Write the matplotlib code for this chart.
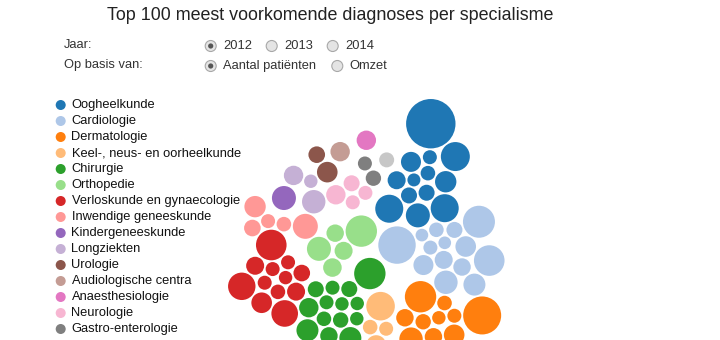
import numpy as np
import matplotlib
matplotlib.use("Agg")
import matplotlib.pyplot as plt
from matplotlib.patches import Circle

# ---------------- data ----------------
titel = "Top 100 meest voorkomende diagnoses per specialisme"
jaren = ["2012", "2013", "2014"]
bases = ["Aantal patiënten", "Omzet"]

specialismen = [
    "Oogheelkunde", "Cardiologie", "Dermatologie", "Keel-, neus- en oorheelkunde",
    "Chirurgie", "Orthopedie", "Verloskunde en gynaecologie", "Inwendige geneeskunde",
    "Kindergeneeskunde", "Longziekten", "Urologie", "Audiologische centra",
    "Anaesthesiologie", "Neurologie", "Gastro-enterologie", "Overig",
]
kleuren = [
    "#1f77b4", "#aec7e8", "#ff7f0e", "#ffbb78", "#2ca02c", "#98df8a", "#d62728", "#ff9896",
    "#9467bd", "#c5b0d5", "#8c564b", "#c49c94", "#e377c2", "#f7b6d2", "#7f7f7f", "#c7c7c7",
]
# relative number of patients per diagnosis (bubble area), grouped per specialism
oogheelkunde = [610, 210, 196, 196, 144, 114, 100, 81, 64, 64, 53, 49, 42]
cardiologie = [350, 256, 234, 137, 121, 106, 100, 81, 76, 64, 53, 49, 40, 40]
dermatologie = [361, 246, 137, 106, 76, 76, 59, 53, 49, 45]
kno = [204, 100, 53, 49]
chirurgie = [246, 121, 121, 94, 76, 64, 64, 59, 53, 49, 49, 45, 45, 45]
orthopedie = [246, 144, 86, 81, 76]
verloskunde = [234, 188, 177, 106, 81, 81, 69, 53, 49, 49, 49, 45]
inwendige = [156, 114, 69, 53, 49]
kindergeneeskunde = [144]
longziekten = [137, 94, 45]
urologie = [106, 69]
audiologie = [94]
anaesthesiologie = [94]
neurologie = [94, 64, 49, 49]
gastro = [59, 49]
overig = [56]

waarden = [oogheelkunde, cardiologie, dermatologie, kno, chirurgie, orthopedie,
           verloskunde, inwendige, kindergeneeskunde, longziekten, urologie,
           audiologie, anaesthesiologie, neurologie, gastro, overig]

# ---------------- layout (clustered packing) ----------------
W, H = 720, 340
centre = np.array([374.0, 250.0])
# per cluster: anchor angle, anchor distance from centre,
# direction and distance of the cluster's largest bubble relative to the anchor
cluster_layout = [
    (51, 79, 80, 58), (0, 84, 175, 60), (-50, 88, 8, 47), (-87, 83, 87, 24),
    (-124, 77, 46, 56), (172, 42, 20, 27), (-160, 105, 104, 38), (165, 113, -14, 42),
    (150, 104, 0, 0), (135, 103, -63, 29), (121, 111, -62, 20), (109, 104, 0, 0),
    (94, 110, 0, 0), (110, 61, 187, 14), (96, 87, -60, 17), (82, 91, 0, 0),
]
pad = 1.8


def polar(base, ang, dist):
    return base + dist * np.array([np.cos(np.radians(ang)), -np.sin(np.radians(ang))])


def place(target, rn, P, R):
    cands = [target[None, :]]
    m = len(R)
    if m > 0:
        d = target - P
        dist = np.sqrt((d ** 2).sum(1)) + 1e-9
        cands.append(P + d / dist[:, None] * (R + rn + pad)[:, None])
        if m > 1:
            ii, jj = np.triu_indices(m, 1)
            A, B = P[ii], P[jj]
            ra, rb = R[ii] + rn + pad, R[jj] + rn + pad
            dv = B - A
            dd = np.sqrt((dv ** 2).sum(1)) + 1e-9
            ok = (dd < ra + rb) & (dd > np.abs(ra - rb))
            A, dv, dd, ra, rb = A[ok], dv[ok], dd[ok], ra[ok], rb[ok]
            a = (ra ** 2 - rb ** 2 + dd ** 2) / (2 * dd)
            h = np.sqrt(np.clip(ra ** 2 - a ** 2, 0, None))
            mid = A + dv * (a / dd)[:, None]
            perp = np.stack([-dv[:, 1], dv[:, 0]], 1) / dd[:, None]
            cands.append(mid + perp * h[:, None])
            cands.append(mid - perp * h[:, None])
    C = np.concatenate(cands)
    if m > 0:
        dc = np.sqrt(((C[:, None, :] - P[None, :, :]) ** 2).sum(-1))
        free = (dc >= (R + rn + pad)[None, :] - 1e-6).all(1)
        C = C[free]
    best = np.argmin(((C - target) ** 2).sum(1))
    return C[best]


# build per-cluster queues: largest first, then smallest upward
queues, targets_big, anchors = [], [], []
for g, vals in enumerate(waarden):
    a_ang, a_dist, b_ang, b_dist = cluster_layout[g]
    anchor = polar(centre, a_ang, a_dist)
    anchors.append(anchor)
    targets_big.append(polar(anchor, b_ang, b_dist))
    srt = sorted(vals)
    queues.append([srt[-1]] + srt[:-1])

P = np.zeros((0, 2))
R = np.zeros(0)
G, T = [], []
maxlen = max(len(q) for q in queues)
for k in range(maxlen):                      # grow all clusters together
    for g, q in enumerate(queues):
        if k < len(q):
            rn = np.sqrt(q[k])
            target = targets_big[g] if k == 0 else anchors[g]
            p = place(target, rn, P, R)
            P = np.vstack([P, p])
            R = np.append(R, rn)
            G.append(g)
            T.append(target)
T = np.array(T)


def collide(pos, strength=0.5):
    d = pos[:, None, :] - pos[None, :, :]
    dist = np.sqrt((d ** 2).sum(-1)) + 1e-9
    ov = np.clip(R[:, None] + R[None, :] + pad - dist, 0, None)
    np.fill_diagonal(ov, 0)
    w = R[None, :] ** 2 / (R[:, None] ** 2 + R[None, :] ** 2)
    return pos + strength * ((ov * w / dist)[:, :, None] * d).sum(1)


for it in range(150):
    P = P + (T - P) * 0.015
    for _ in range(3):
        P = collide(P)
for it in range(200):
    P = collide(P, 0.6)

# ---------------- drawing ----------------
fig = plt.figure(figsize=(W / 100, H / 100), dpi=100)
ax = fig.add_axes([0, 0, 1, 1])
ax.set_xlim(0, W)
ax.set_ylim(H, 0)
ax.axis("off")
ax.set_aspect("equal")

for i in range(len(R)):
    ax.add_patch(Circle(P[i], R[i], facecolor=kleuren[G[i]], edgecolor="none"))

font = "Liberation Sans"
ax.text(330, 16, titel, ha="center", va="center", fontsize=12.9, color="#222222", family=font)

txt = "#333333"
fs = 9.3
ax.text(64, 45, "Jaar:", ha="left", va="center", fontsize=fs, color=txt, family=font)
ax.text(64, 65, "Op basis van:", ha="left", va="center", fontsize=fs, color=txt, family=font)


def radio(x, y, sel):
    ax.add_patch(Circle((x, y), 5.5, facecolor="#e4e4e4", edgecolor="#a8a8a8", lw=0.8))
    if sel:
        ax.add_patch(Circle((x, y), 2.6, facecolor="#555555", edgecolor="none"))


rx = [210.7, 271.7, 332.7]
for k, j in enumerate(jaren):
    radio(rx[k], 46, k == 0)
    ax.text(rx[k] + 12.5, 46, j, ha="left", va="center", fontsize=fs, color=txt, family=font)
bx = [210.7, 337.3]
for k, b in enumerate(bases):
    radio(bx[k], 66, k == 0)
    ax.text(bx[k] + 12.5, 66, b, ha="left", va="center", fontsize=fs, color=txt, family=font)

for k, naam in enumerate(specialismen[:15]):
    y = 105 + 16 * k
    ax.add_patch(Circle((60.7, y), 5.0, facecolor=kleuren[k], edgecolor="none"))
    ax.text(71.5, y, naam, ha="left", va="center", fontsize=fs, color="#111111", family=font)

fig.savefig("out.png", dpi=100)
